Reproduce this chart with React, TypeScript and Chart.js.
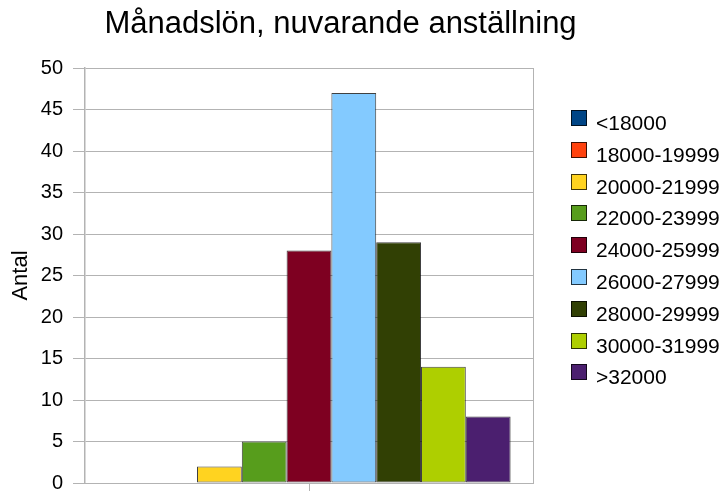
import React, { useEffect, useRef } from 'react';
import { Chart, registerables } from 'chart.js';

Chart.register(...registerables);

const TITLE = 'Månadslön, nuvarande anställning';
const Y_TITLE = 'Antal';
const CATEGORIES = [''];
const SERIES_LABELS = [
  '<18000',
  '18000-19999',
  '20000-21999',
  '22000-23999',
  '24000-25999',
  '26000-27999',
  '28000-29999',
  '30000-31999',
  '>32000',
];
const SERIES_VALUES = [0, 0, 2, 5, 28, 47, 29, 14, 8];
const SERIES_COLORS = [
  '#004586',
  '#ff420e',
  '#ffd320',
  '#579d1c',
  '#7e0021',
  '#83caff',
  '#314004',
  '#aecf00',
  '#4b1f6f',
];
const Y_MIN = 0;
const Y_MAX = 50;
const Y_STEP = 5;

const FONT = "'Liberation Sans', Arial, Helvetica, sans-serif";
const GRID = '#b3b3b3';
const EDGE = 'rgba(0,0,0,0.75)';

export default function App() {
  const ref = useRef<HTMLCanvasElement>(null);

  useEffect(() => {
    const canvas = ref.current;
    if (!canvas) return;

    const overlay = {
      id: 'overlay',
      afterDraw(chart: any) {
        const ctx = chart.ctx as CanvasRenderingContext2D;
        const area = chart.chartArea;
        ctx.save();
        // plot-area right border
        ctx.strokeStyle = GRID;
        ctx.lineWidth = 1;
        const rx = Math.round(area.right) + 0.5;
        ctx.beginPath();
        ctx.moveTo(rx, Math.round(area.top));
        ctx.lineTo(rx, Math.round(area.bottom));
        ctx.stroke();

        // title
        ctx.fillStyle = '#000';
        ctx.font = `31px ${FONT}`;
        ctx.textAlign = 'center';
        ctx.textBaseline = 'alphabetic';
        ctx.fillText(TITLE, 340.5, 33);

        // legend
        ctx.font = `21px ${FONT}`;
        ctx.textAlign = 'left';
        chart.data.datasets.forEach((ds: any, i: number) => {
          const base = 130 + i * 31.8;
          const top = Math.round(base - 20);
          ctx.fillStyle = ds.backgroundColor;
          ctx.fillRect(571, top, 16, 16);
          ctx.strokeStyle = EDGE;
          ctx.lineWidth = 1;
          ctx.strokeRect(571.5, top + 0.5, 15, 15);
          ctx.fillStyle = '#000';
          ctx.fillText(ds.label, 596, base);
        });
        ctx.restore();
      },
    };

    const chart = new Chart(canvas, {
      type: 'bar',
      data: {
        labels: CATEGORIES,
        datasets: SERIES_LABELS.map((label, i) => ({
          label,
          data: [SERIES_VALUES[i]],
          backgroundColor: SERIES_COLORS[i],
          borderColor: EDGE,
          borderWidth: (c: any) => (c.raw ? 1 : 0),
          borderSkipped: false,
          categoryPercentage: 0.9,
          barPercentage: 1.0,
        })),
      },
      options: {
        responsive: false,
        animation: false,
        layout: { padding: { top: 68, right: 193, bottom: 0, left: 0 } },
        plugins: {
          legend: { display: false },
          title: { display: false },
          tooltip: { enabled: false },
        },
        scales: {
          x: {
            type: 'category',
            grid: {
              display: true,
              offset: false,
              drawOnChartArea: false,
              drawTicks: true,
              tickLength: 8,
              color: GRID,
            },
            border: { display: true, color: GRID },
            ticks: { display: false },
            afterFit: (s: any) => {
              s.height = 10;
              s.paddingLeft = 0;
              s.paddingRight = 0;
            },
          },
          y: {
            min: Y_MIN,
            max: Y_MAX,
            ticks: {
              stepSize: Y_STEP,
              color: '#000',
              padding: 10,
              font: { family: FONT, size: 20 },
            },
            grid: { color: GRID, tickLength: 12 },
            border: { display: true, color: GRID, width: 1.5 },
            title: {
              display: true,
              text: Y_TITLE,
              color: '#000',
              font: { family: FONT, size: 22 },
              padding: { top: 8, bottom: 0 },
            },
            afterFit: (s: any) => {
              s.width = 85;
              s.paddingTop = 0;
              s.paddingBottom = 0;
            },
          },
        },
      },
      plugins: [overlay],
    } as any);

    return () => chart.destroy();
  }, []);

  return (
    <div style={{ position: 'fixed', left: 0, top: 0, width: 726, height: 493, background: '#fff' }}>
      <canvas ref={ref} width={726} height={493} style={{ display: 'block' }} />
    </div>
  );
}
